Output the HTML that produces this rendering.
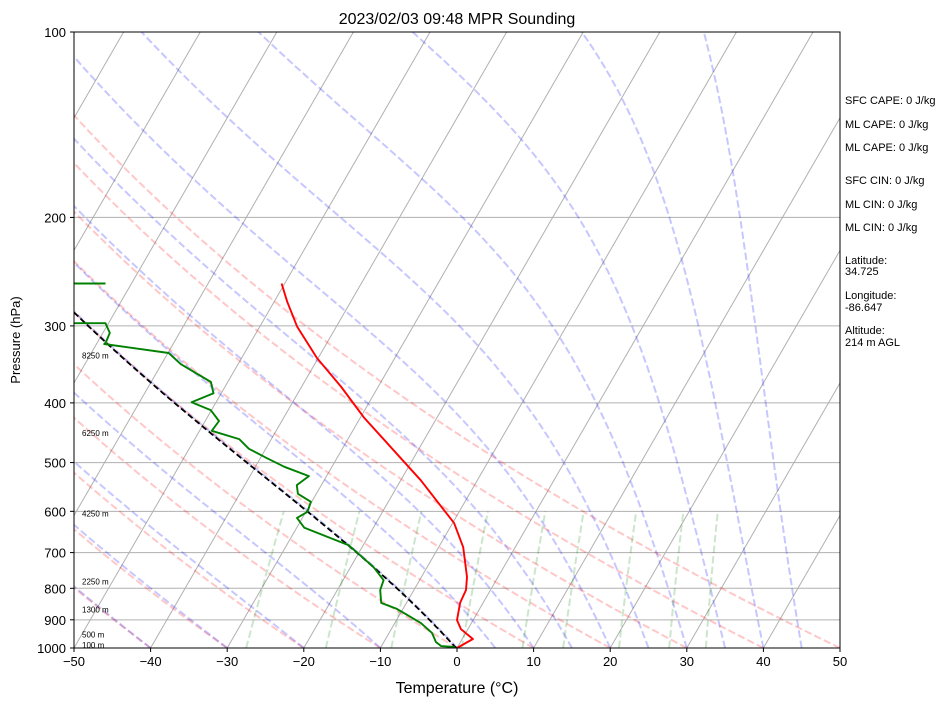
<!DOCTYPE html>
<html><head><meta charset="utf-8"><style>
html,body{margin:0;padding:0;background:#fff;}
svg{display:block;font-family:"Liberation Sans","DejaVu Sans",sans-serif;}
</style></head><body>
<svg id="chart" width="946" height="705" viewBox="0 0 946 705" xmlns="http://www.w3.org/2000/svg">
<rect x="0" y="0" width="946" height="705" fill="#fff"/>
<defs><clipPath id="pc"><rect x="74" y="32" width="766" height="616"/></clipPath></defs>
<text x="457" y="24" font-size="16" text-anchor="middle">2023/02/03 09:48 MPR Sounding</text>
<g id="bg" clip-path="url(#pc)"></g>
<g id="data" clip-path="url(#pc)"></g>
<g id="axes"></g>
<g id="labels"></g>
<text x="457" y="693" font-size="16" text-anchor="middle">Temperature (°C)</text>
<text transform="translate(20,340) rotate(-90)" font-size="13" text-anchor="middle">Pressure (hPa)</text>
<g font-size="11">
<text x="845" y="104">SFC CAPE: 0 J/kg</text>
<text x="845" y="128">ML CAPE: 0 J/kg</text>
<text x="845" y="151">ML CAPE: 0 J/kg</text>
<text x="845" y="184">SFC CIN: 0 J/kg</text>
<text x="845" y="208">ML CIN: 0 J/kg</text>
<text x="845" y="231">ML CIN: 0 J/kg</text>
<text x="845" y="264">Latitude:</text>
<text x="845" y="275">34.725</text>
<text x="845" y="299">Longitude:</text>
<text x="845" y="311">-86.647</text>
<text x="845" y="334">Altitude:</text>
<text x="845" y="346">214 m AGL</text>
</g>
</svg>
<script>
const tempP = [1000,967,932,901,845,805,767,686,627,534,505,422,377,338,301,274,256];
const tempT = [0.0,1.4,-0.9,-2.1,-3.0,-3.2,-4.05,-6.8,-9.8,-17.4,-20.3,-29.6,-34.8,-40.2,-45.1,-48.3,-50.4];
const dewP = [1000,996,993,978,945,911,877,864,845,805,776,739,681,638,615,601,579,562,544,526,508,492,475,458,444,428,411,399,386,370,346,332,321,319,308,297,297,256,256];
const dewT = [-0.3,-0.5,-2.2,-3.2,-4.4,-6.6,-9.6,-10.8,-13.3,-14.4,-14.7,-17.0,-21.9,-29.0,-30.7,-29.8,-30.1,-32.4,-33.2,-32.3,-36.2,-39.1,-42.2,-44.2,-48.4,-48.2,-50.1,-53.2,-51.0,-52.2,-57.5,-59.9,-69.0,-68.9,-69.1,-70.4,-79,-82,-73.4];
const heightLabels = ["100 m","500 m","1300 m","2250 m","4250 m","6250 m","8250 m"];
const heightLabelP = [989,950,866,780,605,448,335];
const xTicks = [-50,-40,-30,-20,-10,0,10,20,30,40,50];
const yTicks = [100,200,300,400,500,600,700,800,900,1000];
const dryT0 = [-40,-30,-20,-10,0,10,20,30,40,50];
const moistT0 = [-40,-30,-20,-10,0,5,10,15,20,25,30,35,40,45];
const mixRatios = [0.0004,0.001,0.002,0.004,0.007,0.01,0.016,0.024,0.032];

const X0=74,X1=840,Y0=32,Y1=648,SK=0.578;
const NS="http://www.w3.org/2000/svg";
function yP(p){return Y1-Math.log10(1000/p)*(Y1-Y0);}
function xT(t,p){return X0+(t+50)*(X1-X0)/100+(Y1-yP(p))*SK;}
function mk(tag,attrs,parent){const e=document.createElementNS(NS,tag);for(const k in attrs)e.setAttribute(k,attrs[k]);parent.appendChild(e);return e;}
function path(pts){return pts.map((q,i)=>(i?'L':'M')+q[0].toFixed(1)+' '+q[1].toFixed(1)).join('');}
const bg=document.getElementById('bg'),dg=document.getElementById('data'),ax=document.getElementById('axes'),lb=document.getElementById('labels');
const DASH='7.4 3.2';

for(const p of yTicks){const l=mk('line',{x1:X0,x2:X1,y1:yP(p),y2:yP(p),stroke:'#b0b0b0','stroke-width':1},bg);

}
for(let t=-160;t<=50;t+=10){const l=mk('line',{x1:xT(t,1000),y1:Y1,x2:xT(t,100),y2:Y0,stroke:'#b0b0b0','stroke-width':1},bg);

}
const ps=[];for(let p=1000;p>=100;p-=5)ps.push(p);
for(const t0 of dryT0){const th=t0+273.15;const pts=ps.map(p=>[xT(th*Math.pow(p/1000,0.2857)-273.15,p),yP(p)]);
const e=mk('path',{d:path(pts),fill:'none',stroke:'rgba(255,0,0,0.22)','stroke-width':2,'stroke-dasharray':DASH},bg);

}
function es(tc){return 6.112*Math.exp(17.67*tc/(tc+243.5));}
function dTdp(T,p){const e=es(T-273.15);const rs=0.622*e/Math.max(p-e,1e-3);const Rd=287.04,Cp=1005.7,Lv=2.501e6;
return (Rd*T+Lv*rs)/(p*(Cp+Lv*Lv*rs*0.622/(Rd*T*T)));}
function moist(T0,p0,pEnd){let T=T0,p=p0;const out=[[T,p]];const dp=-2;while(p>pEnd){const k1=dTdp(T,p);const k2=dTdp(T+k1*dp,p+dp);T+=0.5*(k1+k2)*dp;p+=dp;out.push([T,p]);}return out;}
for(const t0 of moistT0){const pts=moist(t0+273.15,1000,100).map(q=>[xT(q[0]-273.15,q[1]),yP(q[1])]);
const e=mk('path',{d:path(pts),fill:'none',stroke:'rgba(0,0,255,0.22)','stroke-width':2,'stroke-dasharray':DASH},bg);

}
for(const w of mixRatios){const pts=[];for(let p=1000;p>=600;p-=20){const e=w*p/(0.622+w);const a=Math.log(e/6.112);const td=243.5*a/(17.67-a);pts.push([xT(td,p),yP(p)]);}
const e=mk('path',{d:path(pts),fill:'none',stroke:'rgba(0,128,0,0.2)','stroke-width':2,'stroke-dasharray':DASH},bg);

}

(function(){const T=tempT[0]+273.15,Td=dewT[0]+273.15,p0=tempP[0];
const Tl=1/(1/(Td-56)+Math.log(T/Td)/800)+56;const pl=p0*Math.pow(Tl/T,1/0.2857);
const pts=[];for(let p=p0;p>pl;p-=2)pts.push([T*Math.pow(p/p0,0.2857),p]);
const m=moist(Tl,pl,100);for(const q of m)pts.push(q);
const e=mk('path',{d:path(pts.map(q=>[xT(q[0]-273.15,q[1]),yP(q[1])])),fill:'none',stroke:'#000','stroke-width':1.8,'stroke-dasharray':'6 3'},dg);

})();
{const e=mk('path',{d:path(tempT.map((t,i)=>[xT(t,tempP[i]),yP(tempP[i])])),fill:'none',stroke:'#ff0000','stroke-width':1.9,'stroke-linejoin':'round'},dg);

}
{const e=mk('path',{d:path(dewT.map((t,i)=>[xT(t,dewP[i]),yP(dewP[i])])),fill:'none',stroke:'#008000','stroke-width':1.9,'stroke-linejoin':'round'},dg);

}

{const r=mk('rect',{x:X0,y:Y0,width:X1-X0,height:Y1-Y0,fill:'none',stroke:'#000','stroke-width':1},ax);

}
for(const t of xTicks){const x=X0+(t+50)*(X1-X0)/100;
const l=mk('line',{x1:x,x2:x,y1:Y1,y2:Y1+4,stroke:'#000'},ax);


const s=mk('text',{x:x,y:Y1+18,'font-size':13,'text-anchor':'middle'},ax);s.textContent=(t<0?'\u2212'+(-t):String(t));

}
for(const p of yTicks){const y=yP(p);
const l=mk('line',{x1:X0-4,x2:X0,y1:y,y2:y,stroke:'#000'},ax);


const s=mk('text',{x:X0-8,y:y+5,'font-size':13,'text-anchor':'end'},ax);s.textContent=String(p);

}
heightLabels.forEach((h,i)=>{const s=mk('text',{x:82,y:yP(heightLabelP[i])+3,'font-size':8},lb);s.textContent=h;

});
</script>
</body></html>
